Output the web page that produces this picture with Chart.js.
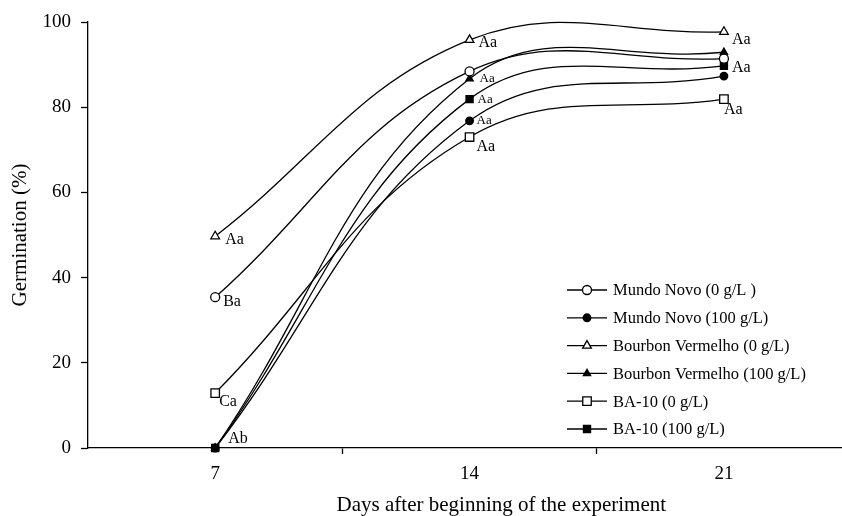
<!DOCTYPE html>
<html>
<head>
<meta charset="utf-8">
<script src="https://cdn.jsdelivr.net/npm/chart.js@4.4.1/dist/chart.umd.min.js"></script>
<style>
  html, body { margin: 0; padding: 0; overflow: hidden; background: #fff; }
  #wrap { width: 922px; height: 516px; position: relative; }
</style>
</head>
<body>
<div id="wrap"><canvas id="chart"></canvas></div>
<script>
// days after beginning of the experiment
const days = [7, 14, 21];

// germination (%)
const mundoNovo0 = [35.4, 88.4, 91.4];
const mundoNovo100 = [0, 76.8, 87.3];
const bourbon0 = [49.7, 95.8, 97.7];
const bourbon100 = [0, 86.7, 92.9];
const ba10_0 = [12.9, 73.0, 81.9];
const ba10_100 = [0, 81.9, 89.7];

const seriesNames = [
  'Mundo Novo (0 g/L )',
  'Mundo Novo (100 g/L)',
  'Bourbon Vermelho (0 g/L)',
  'Bourbon Vermelho (100 g/L)',
  'BA-10 (0 g/L)',
  'BA-10 (100 g/L)'
];
const seriesValues = [mundoNovo0, mundoNovo100, bourbon0, bourbon100, ba10_0, ba10_100];

// letters of the mean comparison: [series index, day index, text]
const letters = [
  [2, 0, 'Aa'], [0, 0, 'Ba'], [4, 0, 'Ca'], [1, 0, 'Ab'],
  [2, 1, 'Aa'], [3, 1, 'Aa'], [5, 1, 'Aa'], [1, 1, 'Aa'], [4, 1, 'Aa'],
  [2, 2, 'Aa'], [5, 2, 'Aa'], [4, 2, 'Aa']
];

// where each letter sits relative to its point (dx, dy, font size)
const letterLayout = [
  [10, 4, 16], [8, 5, 16], [4, 9, 16], [13, -9, 16],
  [9, 3, 16], [10, 0, 13], [8, 0, 13], [7, 0, 13], [7, 10, 16],
  [8, 8, 16], [8, 2, 16], [0, 11, 16]
];

const markers = [
  { pointStyle: 'circle', radius: 4.5, fill: '#fff' },
  { pointStyle: 'circle', radius: 3.8, fill: '#000' },
  { pointStyle: 'triangle', radius: 5, fill: '#fff' },
  { pointStyle: 'triangle', radius: 4.2, fill: '#000' },
  { pointStyle: 'rect', radius: 6, fill: '#fff' },
  { pointStyle: 'rect', radius: 5, fill: '#000' }
];

const serif = 'Liberation Serif';

const datasets = seriesValues.map((vals, i) => ({
  label: seriesNames[i],
  data: vals.map((v, j) => ({ x: days[j], y: v })),
  borderColor: '#000',
  borderWidth: 1.3,
  backgroundColor: markers[i].fill,
  pointStyle: markers[i].pointStyle,
  pointRadius: markers[i].radius,
  pointBorderColor: '#000',
  pointBackgroundColor: markers[i].fill,
  pointBorderWidth: 1.3,
  tension: 0.4,
  capBezierPoints: false,
  clip: false
}));

const lettersPlugin = {
  id: 'letters',
  afterDatasetsDraw(chart) {
    const { ctx, scales } = chart;
    ctx.save();
    ctx.fillStyle = '#000';
    ctx.textAlign = 'left';
    ctx.textBaseline = 'middle';
    letters.forEach(([s, d, text], k) => {
      const [dx, dy, size] = letterLayout[k];
      const x = scales.x.getPixelForValue(days[d]) + dx;
      const y = scales.y.getPixelForValue(seriesValues[s][d]) + dy;
      ctx.font = size + 'px "' + serif + '"';
      ctx.fillText(text, x, y);
    });
    ctx.restore();
  }
};

const legendPlugin = {
  id: 'boxLegend',
  afterDraw(chart) {
    const { ctx } = chart;
    const x0 = 567, top = 290, step = 27.8;
    ctx.save();
    ctx.font = '16.5px "' + serif + '"';
    ctx.textBaseline = 'middle';
    ctx.textAlign = 'left';
    chart.data.datasets.forEach((ds, i) => {
      const y = top + i * step;
      ctx.strokeStyle = '#000';
      ctx.lineWidth = 1.3;
      ctx.beginPath();
      ctx.moveTo(x0, y);
      ctx.lineTo(x0 + 40, y);
      ctx.stroke();
      ctx.fillStyle = markers[i].fill;
      Chart.helpers.drawPoint(ctx, {
        pointStyle: markers[i].pointStyle,
        radius: markers[i].radius,
        rotation: 0,
        borderWidth: 1.3
      }, x0 + 20, y);
      ctx.fillStyle = '#000';
      ctx.fillText(ds.label, x0 + 46, y + 1);
    });
    ctx.restore();
  }
};

new Chart(document.getElementById('chart'), {
  type: 'line',
  data: { datasets },
  plugins: [lettersPlugin, legendPlugin],
  options: {
    responsive: true,
    maintainAspectRatio: false,
    animation: false,
    layout: { padding: { top: 22, right: 0, left: 0, bottom: 0 } },
    plugins: {
      legend: { display: false },
      tooltip: { enabled: false }
    },
    scales: {
      x: {
        type: 'linear',
        min: 3.5,
        max: 26.25,
        afterBuildTicks(scale) {
          scale.ticks = [7, 10.5, 14, 17.5, 21, 24.5].map(v => ({ value: v }));
        },
        afterFit(scale) { scale.height = 68; },
        ticks: {
          autoSkip: false,
          maxRotation: 0,
          color: '#000',
          font: { family: serif, size: 19 },
          padding: 9,
          callback: v => (days.includes(v) ? String(v) : '')
        },
        grid: {
          drawOnChartArea: false,
          tickLength: 6,
          tickWidth: 1.3,
          tickColor: c => (c.tick && days.includes(c.tick.value) ? 'rgba(0,0,0,0)' : '#000')
        },
        border: { color: '#000', width: 1.3 },
        title: {
          display: true,
          text: 'Days after beginning of the experiment',
          color: '#000',
          font: { family: serif, size: 21, lineHeight: 1 },
          padding: { top: 2, bottom: 0 }
        }
      },
      y: {
        min: 0,
        max: 100,
        afterFit(scale) { scale.width = 88; },
        ticks: {
          stepSize: 20,
          color: '#000',
          font: { family: serif, size: 19 },
          padding: 10
        },
        grid: {
          drawOnChartArea: false,
          tickLength: 7,
          tickWidth: 1.3,
          tickColor: '#000'
        },
        border: { color: '#000', width: 1.3 },
        title: {
          display: true,
          text: 'Germination (%)',
          color: '#000',
          font: { family: serif, size: 21 },
          padding: { top: 8, bottom: 4 }
        }
      }
    }
  }
});
</script>
</body>
</html>
